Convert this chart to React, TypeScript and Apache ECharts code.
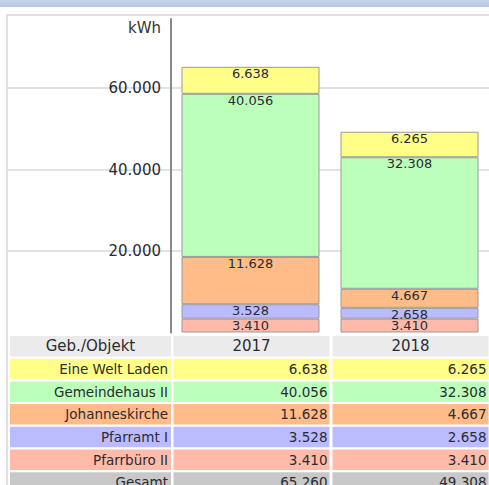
import React, { useEffect, useRef } from "react";
import * as echarts from "echarts";

const categories = ["2017", "2018"];
const eineWeltLaden = [6638, 6265];
const gemeindehausII = [40056, 32308];
const johanneskirche = [11628, 4667];
const pfarramtI = [3528, 2658];
const pfarrbueroII = [3410, 3410];
const seriesNamesTopDown = ["Eine Welt Laden", "Gemeindehaus II", "Johanneskirche", "Pfarramt I", "Pfarrbüro II"];
const seriesValuesTopDown = [eineWeltLaden, gemeindehausII, johanneskirche, pfarramtI, pfarrbueroII];
const seriesColorsTopDown = ["#ffff88", "#bbffbb", "#ffbb88", "#bbbbff", "#ffbbaa"];
const tableHeader = "Geb./Objekt";
const totalLabel = "Gesamt";
const yAxisName = "kWh";

const FONT = "DejaVu Sans";
const fmt = (v: number) => String(v).replace(/\B(?=(\d{3})+(?!\d))/g, ".");

export default function App() {
  const ref = useRef<HTMLDivElement>(null);
  useEffect(() => {
    if (!ref.current) return;
    const chart = echarts.init(ref.current, null, { renderer: "svg" });
    const bottomUpNames = [...seriesNamesTopDown].reverse();
    const bottomUpValues = [...seriesValuesTopDown].reverse();
    const bottomUpColors = [...seriesColorsTopDown].reverse();
    const gridTop = 19;
    const gridHeight = 313.5;
    const yMax = 77000;
    chart.setOption({
      animation: false,
      backgroundColor: "#ffffff",
      grid: [
        { left: 7, width: 485, top: gridTop, height: gridHeight, show: false },
        { left: 171, width: 321, top: gridTop, height: gridHeight, show: false },
      ],
      xAxis: [
        { type: "category", gridIndex: 0, data: categories, show: false },
        { type: "category", gridIndex: 1, data: categories, show: false },
      ],
      yAxis: [
        {
          type: "value",
          gridIndex: 0,
          min: 0,
          max: yMax,
          interval: 20000,
          axisLine: { show: false },
          axisTick: { show: false },
          axisLabel: { show: false },
          splitLine: { show: true, showMinLine: false, showMaxLine: false, lineStyle: { color: "#e2e2e2", width: 2 } },
        },
        {
          type: "value",
          gridIndex: 1,
          min: 0,
          max: yMax,
          interval: 20000,
          name: yAxisName,
          nameLocation: "end",
          nameGap: -9,
          nameTextStyle: { fontFamily: FONT, fontSize: 15, color: "#333", align: "right", verticalAlign: "middle", padding: [0, 10, 0, 0] },
          axisLine: { show: true, lineStyle: { color: "#888", width: 2 } },
          axisTick: { show: false },
          splitLine: { show: false },
          axisLabel: {
            showMinLabel: false,
            showMaxLabel: false,
            margin: 10,
            fontFamily: FONT,
            fontSize: 15,
            color: "#2b2b33",
            formatter: (v: number) => fmt(v),
          },
        },
      ],
      series: bottomUpNames.map((name, i) => ({
        type: "bar",
        name,
        xAxisIndex: 1,
        yAxisIndex: 1,
        stack: "total",
        barWidth: 138,
        data: bottomUpValues[i],
        itemStyle: { color: bottomUpColors[i], borderColor: "#999", borderWidth: 1 },
        label: {
          show: true,
          position: "insideTop",
          distance: 1,
          fontFamily: FONT,
          fontSize: 13,
          lineHeight: 11,
          color: "#2b2b33",
          formatter: (p: any) => fmt(p.value),
        },
      })),
    });

    const centers = categories.map((c) => chart.convertToPixel({ xAxisIndex: 1 }, c) as number);
    const rowTop = 336;
    const rowStride = 22.7;
    const rowH = 20.5;
    const col1L = 10;
    const col1R = 171;
    const halfW = 78;
    const totals = categories.map((_, ci) => seriesValuesTopDown.reduce((s, arr) => s + arr[ci], 0));
    const elems: any[] = [];
    elems.push({
      type: "rect",
      shape: { x: 0, y: 0, width: 489, height: 7 },
      style: { fill: new echarts.graphic.LinearGradient(0, 0, 0, 1, [{ offset: 0, color: "#c6d6ea" }, { offset: 1, color: "#b3c7e1" }]) },
      silent: true,
    });
    elems.push({
      type: "rect",
      shape: { x: 7, y: 15, width: 600, height: 600 },
      style: { fill: "none", stroke: "#e0e0e0", lineWidth: 2 },
      silent: true,
      z: -1,
    });
    const rows: { label: string; values: number[]; color: string }[] = [
      ...seriesNamesTopDown.map((n, i) => ({ label: n, values: seriesValuesTopDown[i], color: seriesColorsTopDown[i] })),
      { label: totalLabel, values: totals, color: "#c8c8c8" },
    ];
    elems.push({ type: "rect", shape: { x: col1L, y: rowTop, width: col1R - col1L, height: rowH }, style: { fill: "#ebebeb" }, silent: true });
    elems.push({
      type: "text",
      x: (col1L + col1R) / 2,
      y: rowTop + rowH / 2,
      style: { text: tableHeader, fontFamily: FONT, fontSize: 15, fill: "#2b2b33", align: "center", verticalAlign: "middle" },
      silent: true,
    });
    categories.forEach((c, ci) => {
      elems.push({ type: "rect", shape: { x: centers[ci] - halfW + 1, y: rowTop, width: halfW * 2, height: rowH }, style: { fill: "#ebebeb" }, silent: true });
      elems.push({
        type: "text",
        x: centers[ci] + 1,
        y: rowTop + rowH / 2,
        style: { text: c, fontFamily: FONT, fontSize: 15, fill: "#2b2b33", align: "center", verticalAlign: "middle" },
        silent: true,
      });
    });
    rows.forEach((r, ri) => {
      const y = rowTop + rowStride * (ri + 1);
      elems.push({ type: "rect", shape: { x: col1L, y, width: col1R - col1L, height: rowH }, style: { fill: r.color }, silent: true });
      elems.push({
        type: "text",
        x: col1R - 3,
        y: y + rowH / 2,
        style: { text: r.label, fontFamily: FONT, fontSize: 13.5, fill: "#2b2b33", align: "right", verticalAlign: "middle" },
        silent: true,
      });
      categories.forEach((_, ci) => {
        elems.push({ type: "rect", shape: { x: centers[ci] - halfW + 1, y, width: halfW * 2, height: rowH }, style: { fill: r.color }, silent: true });
        elems.push({
          type: "text",
          x: centers[ci] + halfW - 1,
          y: y + rowH / 2,
          style: { text: fmt(r.values[ci]), fontFamily: FONT, fontSize: 13.5, fill: "#2b2b33", align: "right", verticalAlign: "middle" },
          silent: true,
        });
      });
    });
    chart.setOption({ graphic: { elements: elems } });
    return () => chart.dispose();
  }, []);
  return <div ref={ref} style={{ position: "absolute", left: 0, top: 0, width: 489, height: 485 }} />;
}
